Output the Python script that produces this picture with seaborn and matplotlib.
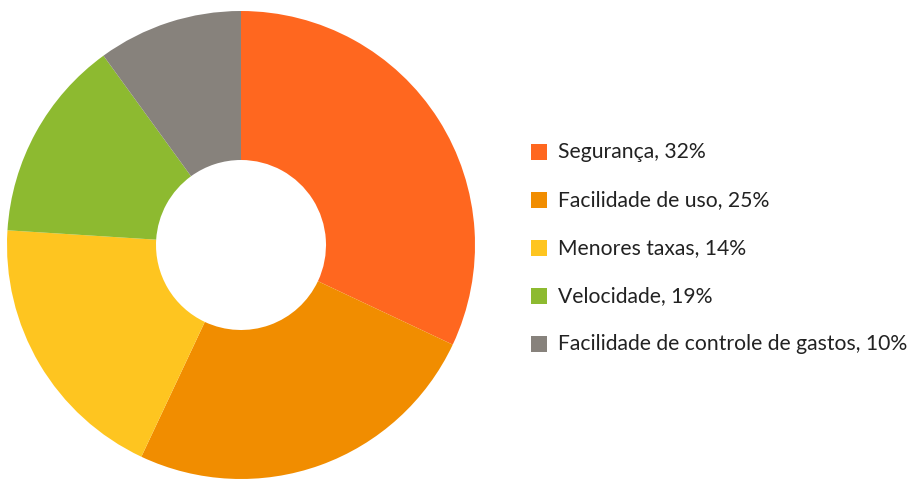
import matplotlib
matplotlib.use("Agg")
import matplotlib.pyplot as plt
import seaborn as sns
from matplotlib.patches import Rectangle

# Data (slice sizes as drawn, clockwise from 12 o'clock)
categories = ["Segurança", "Facilidade de uso", "Menores taxas", "Velocidade",
              "Facilidade de controle de gastos"]
legend_pct = [32, 25, 14, 19, 10]
slice_sizes = [32, 25, 19, 14, 10]
colors = ["#FF671F", "#F18D00", "#FEC520", "#8DBA30", "#87827C"]

sns.set_theme(style="white")
plt.rcParams['font.family'] = ['Lato', 'DejaVu Sans']

W, H = 909, 479
fig = plt.figure(figsize=(W / 100, H / 100), dpi=100)

# donut: centre at (241, 245) px, outer radius 234 px, inner radius 85 px
cx, cy, r = 241, 245, 234
ax = fig.add_axes([(cx - r) / W, (H - cy - r) / H, 2 * r / W, 2 * r / H])
ax.pie(slice_sizes, colors=sns.color_palette(colors), startangle=90, counterclock=False,
       radius=1, wedgeprops=dict(width=1 - 85 / 234, linewidth=0), frame=False)
ax.set_xlim(-1, 1)
ax.set_ylim(-1, 1)
ax.set_aspect('equal')
ax.axis('off')

# legend drawn by hand
for i, (cat, p, col) in enumerate(zip(categories, legend_pct, colors)):
    yc = 152 + 48 * i
    fig.patches.append(Rectangle((531 / W, (H - yc - 8) / H), 16 / W, 16 / H,
                                 transform=fig.transFigure, facecolor=col, edgecolor='none'))
    fig.text(558 / W, (H - yc) / H, f"{cat}, {p}%", fontsize=15.2, color="#222222",
             va='center', ha='left')

plt.savefig("out.png", dpi=100)
